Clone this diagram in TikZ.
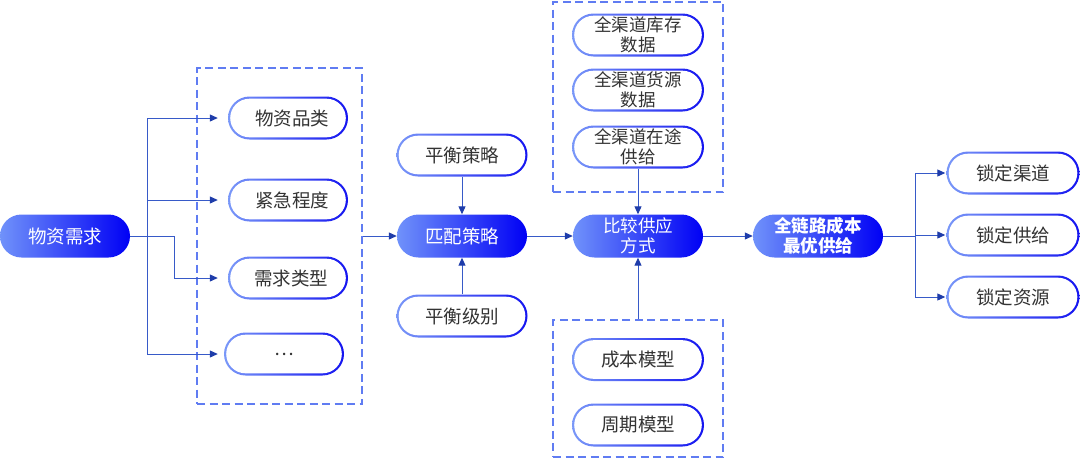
\documentclass[tikz,border=0pt]{standalone}
\usepackage{fontspec}
\setmainfont{Noto Sans CJK SC}
\usetikzlibrary{arrows.meta,calc}
\definecolor{gl}{RGB}{112,146,250}
\definecolor{gr}{RGB}{0,0,245}
\definecolor{bdl}{RGB}{122,152,248}
\definecolor{bdr}{RGB}{20,20,240}
\definecolor{dashc}{RGB}{96,124,242}
\definecolor{lnc}{RGB}{55,90,200}
\definecolor{tipc}{RGB}{30,60,170}
\definecolor{txtc}{RGB}{51,51,51}
\begin{document}
\begin{tikzpicture}[x=1pt,y=-1pt,
  bigfont/.style={font=\fontsize{18.5}{20}\selectfont},
  twofont/.style={font=\fontsize{17.5}{20}\selectfont},
  bluebox/.style={rectangle, rounded corners=21.5pt, minimum width=130pt, minimum height=43pt,
    left color=gl, right color=gr, text=white, bigfont, align=center, inner sep=0pt},
  whitebox/.style={rectangle, rounded corners=21.5pt, minimum width=#1, minimum height=43pt,
    left color=bdl, right color=bdr, text=txtc, bigfont, align=center, inner sep=0pt,
    path picture={\fill[white, rounded corners=19.3pt]
      ([xshift=2.2pt,yshift=2.2pt]path picture bounding box.south west) rectangle
      ([xshift=-2.2pt,yshift=-2.2pt]path picture bounding box.north east);}},
  whitebox/.default=120pt,
  dbox/.style={draw=dashc, line width=1.6pt, dash pattern=on 8pt off 4.5pt, rectangle, inner sep=0pt},
  conn/.style={draw=lnc, line width=1pt},
  arr/.style={conn, -{Triangle[length=8pt,width=7pt,color=tipc]}}
]
\useasboundingbox (0,0) rectangle (1080,459);

% dashed groups
\node[dbox, minimum width=165pt, minimum height=336pt] (box1) at (279.5,236) {};
\node[dbox, minimum width=170pt, minimum height=190pt] (box2) at (638,97) {};
\node[dbox, minimum width=170pt, minimum height=137pt] (box3) at (638,388.5) {};

% main nodes
\node[bluebox] (need) at (65,236) {物资需求};
\node[bluebox] (match) at (462,236) {匹配策略};
\node[bluebox, twofont] (cmp) at (638,236) {比较供应\\方式};
\node[bluebox, font=\fontsize{17.5}{20}\selectfont\bfseries] (opt) at (818,236) {全链路成本\\最优供给};

% left group
\node[whitebox=120pt] (c1) at (288,118) {\hspace*{8pt}物资品类};
\node[whitebox=120pt] (c2) at (288,200) {\hspace*{8pt}紧急程度};
\node[whitebox=120pt] (c3) at (288,278) {\hspace*{6pt}需求类型};
\node[whitebox=120pt] (c4) at (284,354) {…};

% strategy
\node[whitebox=131pt] (s1) at (462,155) {平衡策略};
\node[whitebox=131pt] (s2) at (462,316) {平衡级别};

% top group
\node[whitebox=132pt, twofont] (d1) at (638,35) {全渠道库存\\数据};
\node[whitebox=132pt, twofont] (d2) at (638,90) {全渠道货源\\数据};
\node[whitebox=132pt, twofont] (d3) at (638,147) {全渠道在途\\供给};

% bottom group
\node[whitebox=132pt] (m1) at (638,359.5) {成本模型};
\node[whitebox=132pt] (m2) at (638,425) {周期模型};

% right
\node[whitebox=133pt] (r1) at (1013,173) {锁定渠道};
\node[whitebox=133pt] (r2) at (1013,235) {锁定供给};
\node[whitebox=133pt] (r3) at (1013,297) {锁定资源};

% connectors left
\coordinate (j1) at (147,236);
\coordinate (j2) at (174,236);
\draw[conn] (need.east) -- (j2);
\draw[arr, shorten >=10pt] (j1) |- (c1.west);
\draw[arr, shorten >=10pt] (j1) |- (c2.west);
\draw[arr, shorten >=10pt] (j2) |- (c3.west);
\draw[arr, shorten >=6pt] (j1) |- (c4.west);

\draw[arr] (box1.east) -- (match.west);
\draw[arr] (s1.south) -- (match.north);
\draw[arr] (s2.north) -- (match.south);
\draw[arr] (match.east) -- (cmp.west);
\draw[arr] (d3.south) -- (cmp.north);
\draw[arr] (box3.north) -- (cmp.south);
\draw[arr] (cmp.east) -- (opt.west);

% right connectors
\coordinate (j3) at (915,236);
\draw[conn] (opt.east) -- (j3);
\draw[arr, shorten >=1pt] (j3) |- (r1.west);
\draw[arr, shorten >=1pt] (j3) |- (r2.west);
\draw[arr, shorten >=1pt] (j3) |- (r3.west);
\end{tikzpicture}
\end{document}
